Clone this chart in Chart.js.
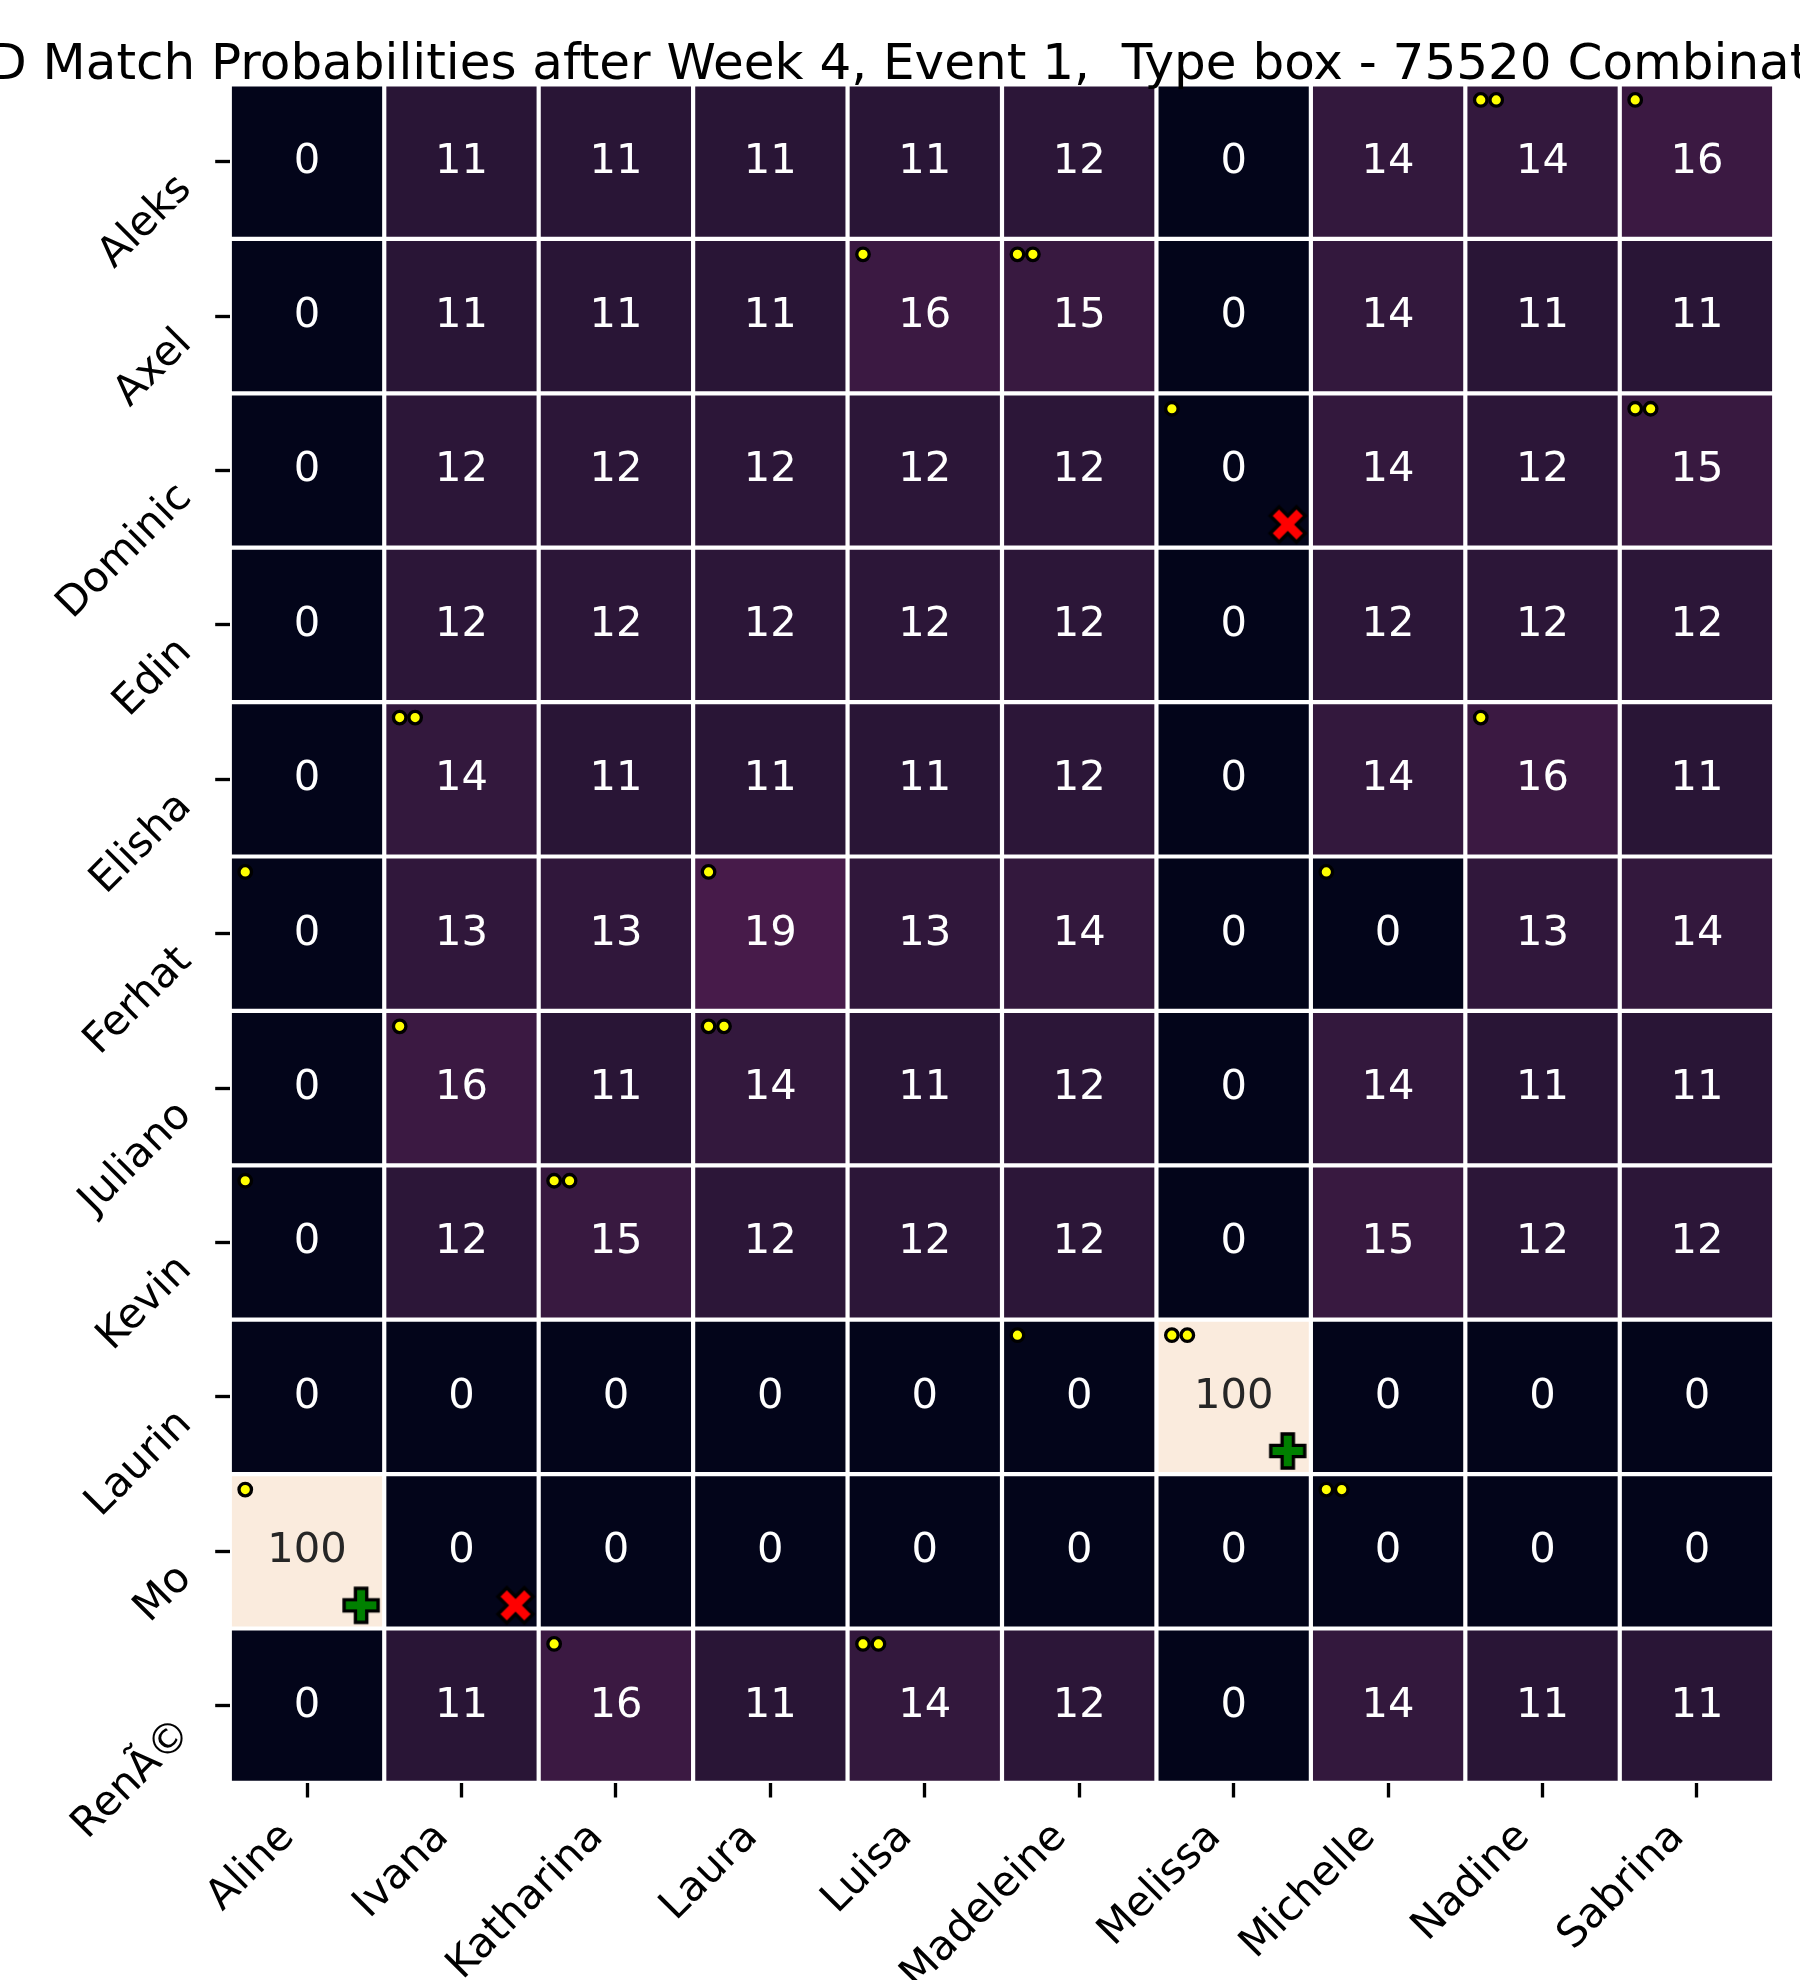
<!DOCTYPE html>
<html>
<head>
<meta charset="utf-8">
<script src="https://cdn.jsdelivr.net/npm/chart.js@4.4.1/dist/chart.umd.min.js"></script>
<style>
html,body{margin:0;padding:0;background:#ffffff;}
canvas{display:block;}
</style>
</head>
<body>
<canvas id="c" width="1800" height="1980"></canvas>
<script>
// ---------------- data ----------------
const titleText = 'ID Match Probabilities after Week 4, Event 1,  Type box - 75520 Combinations';
const menLabels = ['Aleks','Axel','Dominic','Edin','Elisha','Ferhat','Juliano','Kevin','Laurin','Mo','RenÃ©'];
const womenLabels = ['Aline','Ivana','Katharina','Laura','Luisa','Madeleine','Melissa','Michelle','Nadine','Sabrina'];
const probabilities = [
  [0, 11, 11, 11, 11, 12,   0, 14, 14, 16],
  [0, 11, 11, 11, 16, 15,   0, 14, 11, 11],
  [0, 12, 12, 12, 12, 12,   0, 14, 12, 15],
  [0, 12, 12, 12, 12, 12,   0, 12, 12, 12],
  [0, 14, 11, 11, 11, 12,   0, 14, 16, 11],
  [0, 13, 13, 19, 13, 14,   0,  0, 13, 14],
  [0, 16, 11, 14, 11, 12,   0, 14, 11, 11],
  [0, 12, 15, 12, 12, 12,   0, 15, 12, 12],
  [0,  0,  0,  0,  0,  0, 100,  0,  0,  0],
  [100, 0, 0,  0,  0,  0,   0,  0,  0,  0],
  [0, 11, 16, 11, 14, 12,   0, 14, 11, 11]
];
// [row, col, number of dots]
const dotCells = [
  [0, 8, 2], [0, 9, 1],
  [1, 4, 1], [1, 5, 2],
  [2, 6, 1], [2, 9, 2],
  [4, 1, 2], [4, 8, 1],
  [5, 0, 1], [5, 3, 1], [5, 7, 1],
  [6, 1, 1], [6, 3, 2],
  [7, 0, 1], [7, 2, 2],
  [8, 5, 1], [8, 6, 2],
  [9, 0, 1], [9, 7, 2],
  [10, 2, 1], [10, 4, 2]
];
// [row, col]
const noMatchCells = [[2, 6], [9, 1]];
const perfectMatchCells = [[8, 6], [9, 0]];

// ---------------- colormap (seaborn "rocket") ----------------
const rocketStops = [
  [0.00, [3, 5, 26]],
  [0.05, [19, 13, 37]],
  [0.10, [37, 20, 51]],
  [0.15, [56, 25, 64]],
  [0.20, [76, 28, 77]],
  [0.30, [113, 31, 87]],
  [0.40, [161, 26, 91]],
  [0.50, [203, 27, 79]],
  [0.60, [232, 63, 63]],
  [0.70, [241, 105, 75]],
  [0.80, [245, 150, 110]],
  [0.90, [246, 193, 164]],
  [1.00, [250, 235, 221]]
];
function rocketRGB(v) {
  const idx = Math.min(255, Math.floor(v / 100 * 256));
  const t = idx / 255;
  for (let i = 1; i < rocketStops.length; i++) {
    const [t1, c1] = rocketStops[i];
    const [t0, c0] = rocketStops[i - 1];
    if (t <= t1) {
      const f = (t - t0) / (t1 - t0);
      return c0.map((a, k) => Math.round(a + (c1[k] - a) * f));
    }
  }
  return rocketStops[rocketStops.length - 1][1];
}
function rgbStr(c) { return 'rgb(' + c.join(',') + ')'; }
function textColorFor(v) {
  const c = rocketRGB(v).map(x => {
    x = x / 255;
    return x <= 0.03928 ? x / 12.92 : Math.pow((x + 0.055) / 1.055, 2.4);
  });
  const lum = 0.2126 * c[0] + 0.7152 * c[1] + 0.0722 * c[2];
  return lum > 0.408 ? '#262626' : '#ffffff';
}

// ---------------- marker images ----------------
function markerCanvas(verts, unit, fill) {
  const size = 56;
  const cv = document.createElement('canvas');
  cv.width = size; cv.height = size;
  const g = cv.getContext('2d');
  g.translate(size / 2, size / 2);
  g.beginPath();
  verts.forEach(([vx, vy], i) => {
    const X = vx * unit, Y = vy * unit;
    if (i === 0) g.moveTo(X, Y); else g.lineTo(X, Y);
  });
  g.closePath();
  g.fillStyle = fill;
  g.fill();
  g.lineWidth = 3.4;
  g.lineJoin = 'miter';
  g.strokeStyle = '#000000';
  g.stroke();
  return cv;
}
const xFilledVerts = [[-1,-2],[0,-1],[1,-2],[2,-1],[1,0],[2,1],[1,2],[0,1],[-1,2],[-2,1],[-1,0],[-2,-1]];
const plusFilledVerts = [[-1,-3],[1,-3],[1,-1],[3,-1],[3,1],[1,1],[1,3],[-1,3],[-1,1],[-3,1],[-3,-1],[-1,-1]];
const redX = markerCanvas(xFilledVerts, 35 / 4, '#ff0000');
const greenPlus = markerCanvas(plusFilledVerts, 34 / 6, '#008000');

// ---------------- datasets ----------------
const cellPoints = [];
const cellColors = [];
probabilities.forEach((row, r) => row.forEach((v, c) => {
  cellPoints.push({x: c, y: r, v: v});
  cellColors.push(rgbStr(rocketRGB(v)));
}));
const dotPoints = [];
dotCells.forEach(([r, c, n]) => {
  for (let k = 0; k < n; k++) dotPoints.push({x: c - 0.4 + 0.1 * k, y: r - 0.4});
});
const xPoints = noMatchCells.map(([r, c]) => ({x: c + 0.35, y: r + 0.35}));
const plusPoints = perfectMatchCells.map(([r, c]) => ({x: c + 0.35, y: r + 0.35}));

function cellRadius(ctx) {
  const s = ctx.chart.scales.x;
  const w = Math.abs(s.getPixelForValue(1) - s.getPixelForValue(0));
  return (w - 4.2) / 2 * Math.SQRT2;
}

const FONT = 'DejaVu Sans';

const annotatePlugin = {
  id: 'cellText',
  afterDatasetsDraw(chart) {
    const {ctx} = chart;
    const xs = chart.scales.x, ys = chart.scales.y;
    ctx.save();
    ctx.font = '41.67px "' + FONT + '"';
    ctx.textAlign = 'center';
    ctx.textBaseline = 'alphabetic';
    probabilities.forEach((row, r) => row.forEach((v, c) => {
      ctx.fillStyle = textColorFor(v);
      ctx.fillText(String(v), xs.getPixelForValue(c), ys.getPixelForValue(r) + 10.9);
    }));
    ctx.restore();
  }
};
const titlePlugin = {
  id: 'wideTitle',
  afterDraw(chart) {
    const {ctx} = chart;
    ctx.save();
    ctx.font = '50px "' + FONT + '"';
    ctx.fillStyle = '#000000';
    ctx.textAlign = 'center';
    ctx.textBaseline = 'alphabetic';
    ctx.fillText(titleText, 942.5, 78.5);
    ctx.restore();
  }
};

new Chart(document.getElementById('c'), {
  type: 'scatter',
  data: {
    datasets: [
      {
        label: 'plus', data: plusPoints, pointStyle: greenPlus, radius: 10, order: 1
      },
      {
        label: 'x', data: xPoints, pointStyle: redX, radius: 10, order: 1
      },
      {
        label: 'dots', data: dotPoints, pointStyle: 'circle', radius: 6.25,
        backgroundColor: '#ffff00', borderColor: '#000000', borderWidth: 3.33, order: 2
      },
      {
        label: 'cells', data: cellPoints, pointStyle: 'rect', radius: cellRadius,
        backgroundColor: cellColors, borderWidth: 0, order: 10
      }
    ]
  },
  options: {
    responsive: false,
    animation: false,
    events: [],
    devicePixelRatio: 1,
    layout: {padding: {top: 84.5, right: 25.8, left: 0, bottom: 0}},
    plugins: {
      legend: {display: false},
      tooltip: {enabled: false},
      title: {display: false}
    },
    scales: {
      x: {
        type: 'linear', position: 'bottom', min: -0.5, max: 9.5,
        afterBuildTicks: (s) => { s.ticks = womenLabels.map((_, i) => ({value: i})); },
        afterFit: (s) => { s.height = 197.1; },
        grid: {display: true, drawOnChartArea: false, drawTicks: true, tickLength: 14.6, tickWidth: 3.33, tickColor: '#000000'},
        border: {display: false},
        ticks: {
          autoSkip: false, minRotation: 45, maxRotation: 45, padding: 15.5, labelOffset: -19,
          color: '#000000', font: {family: FONT, size: 41.67, lineHeight: 1.2},
          callback: (v) => womenLabels[v]
        }
      },
      y: {
        type: 'linear', position: 'left', min: -0.5, max: 10.5, reverse: true,
        afterBuildTicks: (s) => { s.ticks = menLabels.map((_, i) => ({value: i})); },
        afterFit: (s) => { s.width = 229.8; },
        grid: {display: true, drawOnChartArea: false, drawTicks: true, tickLength: 14.6, tickWidth: 3.33, tickColor: '#000000'},
        border: {display: false},
        ticks: {
          autoSkip: false, minRotation: 45, maxRotation: 45, padding: 30, labelOffset: 21,
          color: '#000000', font: {family: FONT, size: 41.67, lineHeight: 1.2},
          callback: (v) => menLabels[v]
        }
      }
    }
  },
  plugins: [annotatePlugin, titlePlugin]
});
</script>
</body>
</html>
